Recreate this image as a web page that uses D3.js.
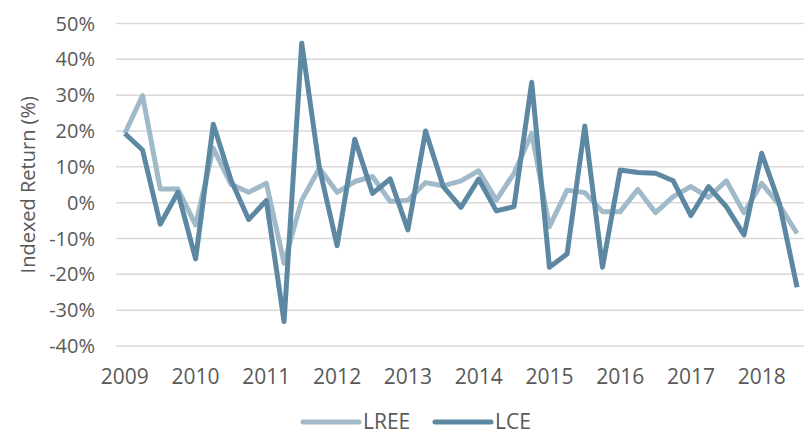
<!DOCTYPE html>
<html>
<head>
<meta charset="utf-8">
<script src="https://cdn.jsdelivr.net/npm/d3@7"></script>
<style>
  body { margin: 0; background: #fff; }
  text { font-family: "Open Sans", "Noto Sans", sans-serif; fill: #595959; }
</style>
</head>
<body>
<script>
// quarterly returns, 2009 Q1 .. 2018 Q3
var years = [2009, 2010, 2011, 2012, 2013, 2014, 2015, 2016, 2017, 2018];
var yTicks = [-40, -30, -20, -10, 0, 10, 20, 30, 40, 50];

var lree = [19.3, 29.9, 3.8, 3.8, -6.2, 15.2, 5.1, 2.9, 5.4, -16.9,
            0.7, 9.6, 2.9, 5.9, 7.3, 0.3, 0.7, 5.6, 4.7, 6.1,
            8.9, 0.7, 8.2, 19.3, -6.7, 3.5, 2.8, -2.5, -2.5, 3.7,
            -2.8, 1.7, 4.5, 1.5, 6.1, -2.8, 5.4, -0.7, -8.6];
var lce = [19.3, 14.7, -6.0, 2.9, -15.7, 21.9, 6.3, -4.7, 0.6, -33.2,
           44.5, 9.6, -12.0, 17.7, 2.6, 6.6, -7.6, 20.0, 4.5, -1.3,
           6.6, -2.3, -1.1, 33.6, -18.0, -14.3, 21.4, -18.0, 9.1, 8.4,
           8.2, 6.1, -3.6, 4.5, -1.1, -9.0, 13.8, -0.2, -23.6];

var W = 804, H = 437;
var plotLeft = 116, plotTop = 23.5, plotBottom = 346;
var step = 17.69;

var svg = d3.select("body").append("svg")
    .attr("width", W).attr("height", H);

var x = d3.scaleLinear().domain([0, 39]).range([plotLeft, plotLeft + 39 * step]);
var y = d3.scaleLinear().domain([-40, 50]).range([plotBottom, plotTop]);

// gridlines
svg.append("g").selectAll("line")
    .data(yTicks)
    .enter()
    .append("line")
    .attr("x1", plotLeft).attr("x2", W)
    .attr("y1", function(d){ return y(d); })
    .attr("y2", function(d){ return y(d); })
    .style("stroke", "#d9d9d9").style("stroke-width", 1.5);

// y tick labels
svg.append("g").selectAll("text")
    .data(yTicks)
    .enter()
    .append("text")
    .attr("x", 95)
    .attr("y", function(d){ return y(d); })
    .attr("dy", "0.35em")
    .attr("text-anchor", "end")
    .style("font-size", "20px")
    .text(function(d){ return d + "%"; });

// x labels, one per year at first quarter
svg.append("g").selectAll("text")
    .data(years)
    .enter()
    .append("text")
    .attr("x", function(d, i){ return x(i * 4 + 0.5); })
    .attr("y", 384)
    .attr("text-anchor", "middle")
    .style("font-size", "21px")
    .text(function(d){ return d; });

// y axis title
svg.append("text")
    .attr("transform", "translate(35," + ((plotTop + plotBottom) / 2) + ") rotate(-90)")
    .attr("text-anchor", "middle")
    .style("font-size", "20px")
    .text("Indexed Return (%)");

var line = d3.line()
    .x(function(d, i){ return x(i + 0.5); })
    .y(function(d){ return y(d); });

var series = [
    { name: "LREE", values: lree, color: "#a0bac9" },
    { name: "LCE", values: lce, color: "#5d88a3" }
];

svg.selectAll("path.series")
    .data(series)
    .enter()
    .append("path")
    .attr("class", "series")
    .attr("d", function(d){ return line(d.values); })
    .style("fill", "none")
    .style("stroke", function(d){ return d.color; })
    .style("stroke-width", 5)
    .style("stroke-linejoin", "round");

// legend
var legendX = [303, 435];
var lg = svg.selectAll("g.legend")
    .data(series)
    .enter()
    .append("g")
    .attr("class", "legend")
    .attr("transform", function(d, i){ return "translate(" + legendX[i] + ",422)"; });

lg.append("line")
    .attr("x1", 0).attr("x2", 56)
    .style("stroke", function(d){ return d.color; })
    .style("stroke-width", 5)
    .style("stroke-linecap", "round");

lg.append("text")
    .attr("x", 60)
    .attr("dy", "0.35em")
    .style("font-size", "21px")
    .text(function(d){ return d.name; });
</script>
</body>
</html>
